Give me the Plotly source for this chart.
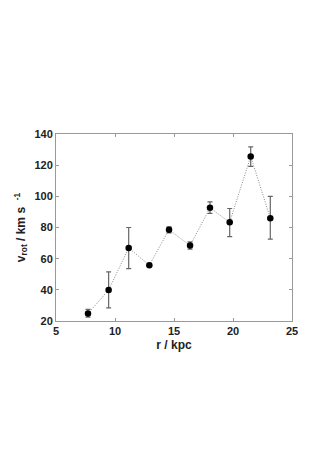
import plotly.graph_objects as go

r_kpc = [7.71, 9.46, 11.16, 12.91, 14.58, 16.36, 18.05, 19.72, 21.5, 23.16]
v_rot = [24.8, 39.9, 66.9, 55.8, 78.6, 68.4, 92.6, 83.4, 125.6, 86.0]
err_plus = [2.6, 11.6, 13.1, 0.6, 1.8, 2.4, 3.9, 8.8, 6.2, 14.0]
err_minus = [2.3, 11.5, 13.3, 0.6, 2.0, 2.3, 3.6, 9.2, 6.4, 13.5]

x_ticks = [5, 10, 15, 20, 25]
y_ticks = [20, 40, 60, 80, 100, 120, 140]

fig = go.Figure()
fig.add_trace(go.Scatter(
    x=r_kpc, y=v_rot, mode="lines",
    line=dict(color="#888888", width=1, dash="1px,1.5px"),
    showlegend=False, hoverinfo="skip"))
fig.add_trace(go.Scatter(
    x=r_kpc, y=v_rot, mode="markers",
    marker=dict(color="black", size=6.5),
    error_y=dict(type="data", symmetric=False, array=err_plus, arrayminus=err_minus,
                 color="#666666", thickness=1.2, width=2.5),
    showlegend=False))

font = dict(family="Liberation Sans, Arial, sans-serif", size=11, color="#222222")
axis_common = dict(
    showgrid=False, zeroline=False, showline=True, linecolor="#999999", linewidth=1,
    mirror="ticks", ticks="inside", ticklen=3, tickcolor="#999999", automargin=False,
    tickfont=dict(family="Liberation Sans, Arial, sans-serif", size=11, color="#222222", weight="bold"),
)
fig.update_layout(
    width=331, height=468,
    margin=dict(l=48, r=47, t=126, b=155),
    paper_bgcolor="white", plot_bgcolor="white",
    font=font,
    xaxis=dict(range=[5, 25], tickvals=x_ticks, title=dict(text="<b>r / kpc</b>", standoff=4,
               font=dict(size=12)), **axis_common),
    yaxis=dict(range=[20, 140], tickvals=y_ticks, title=dict(text="<b>v<sub>rot</sub> / km s  <sup>-1</sup></b>",
               standoff=6, font=dict(size=12)), **axis_common),
)
fig.write_html("out.html")
